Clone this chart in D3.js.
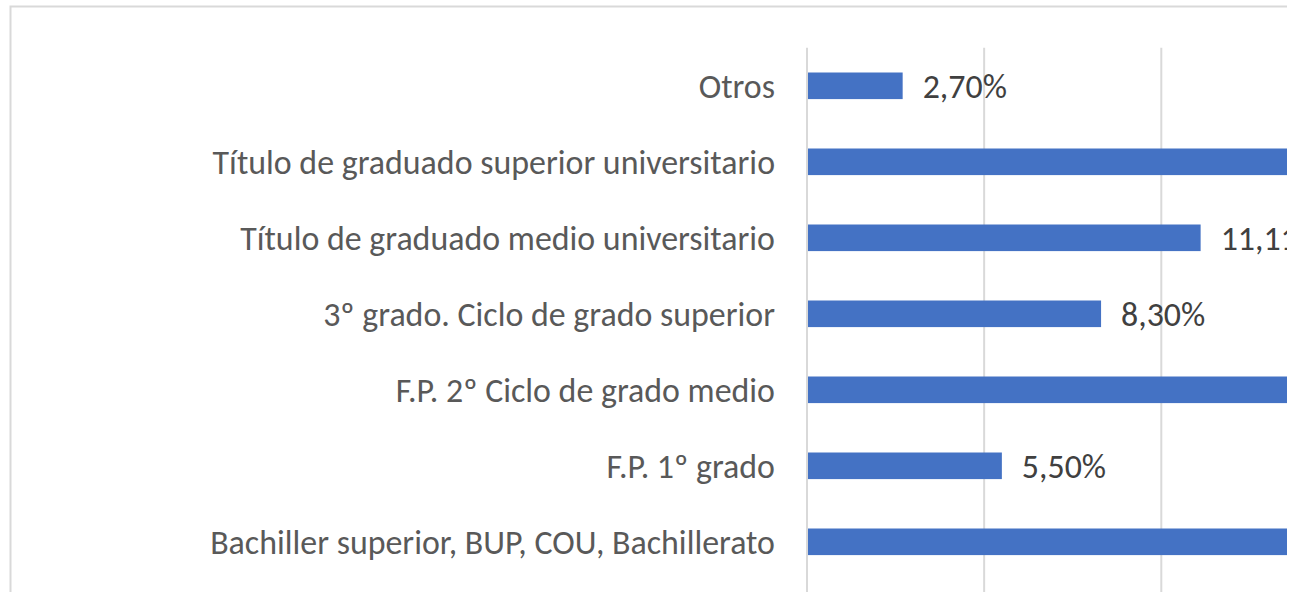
<!DOCTYPE html>
<html>
<head>
<meta charset="utf-8">
<script src="https://cdn.jsdelivr.net/npm/d3@7"></script>
<style>
  html, body { margin: 0; padding: 0; background: #fff; }
  svg { display: block; }
</style>
</head>
<body>
<div id="chart"></div>
<script>
// ---- data (top to bottom) ----
const categories = [
  "Otros",
  "Título de graduado superior universitario",
  "Título de graduado medio universitario",
  "3º grado. Ciclo de grado superior",
  "F.P. 2º Ciclo de grado medio",
  "F.P. 1º grado",
  "Bachiller superior, BUP, COU, Bachillerato"
];
const values = [2.70, 36.11, 11.11, 8.30, 16.67, 5.50, 19.44];
const tickValues = [0, 5, 10, 15, 20, 25, 30, 35, 40];

const W = 1307, H = 592;
const CROP = 1287;
const FONT = "Carlito, Calibri, Lato, 'Open Sans', sans-serif";

const svg = d3.select("#chart").append("svg")
  .attr("width", W).attr("height", H);

// visible crop of the chart (reference is cut on the right)
svg.append("defs").append("clipPath").attr("id", "crop")
  .append("rect").attr("x", 0).attr("y", 0).attr("width", CROP).attr("height", H);

const g = svg.append("g").attr("clip-path", "url(#crop)");

// chart frame
g.append("rect")
  .attr("x", 10.5).attr("y", 6.5)
  .attr("width", 1600).attr("height", 800)
  .attr("fill", "#fff").attr("stroke", "#d9d9d9").attr("stroke-width", 2);

const x = d3.scaleLinear().domain([0, 40]).range([807, 807 + 40 * 35.43]);
const y = d3.scaleBand().domain(categories).range([47.8, 579.8]).paddingInner(0.65).paddingOuter(0.325);

// gridlines
g.append("g").selectAll("line").data(tickValues).join("line")
  .attr("x1", d => x(d)).attr("x2", d => x(d))
  .attr("y1", 47.8).attr("y2", H + 20)
  .attr("stroke", "#d9d9d9").attr("stroke-width", 2);

// bars
g.append("g").selectAll("rect").data(categories).join("rect")
  .attr("x", x(0) + 1)
  .attr("y", d => y(d))
  .attr("width", (d, i) => x(values[i]) - x(0) - 1)
  .attr("height", y.bandwidth())
  .attr("fill", "#4472C4");

// category labels (size fitted to the longest label's width in the reference)
const catLabels = svg.append("g").selectAll("text").data(categories).join("text")
  .attr("x", 775)
  .attr("y", d => y(d) + y.bandwidth() / 2)
  .attr("dy", "0.35em")
  .attr("text-anchor", "end")
  .attr("font-family", FONT)
  .attr("font-size", 100)
  .attr("fill", "#595959")
  .text(d => d);

const longest = catLabels.filter((d, i) => i === categories.length - 1).node().getComputedTextLength();
const fs = 100 * 565 / longest;
catLabels.attr("font-size", fs);

// value labels (those that start beyond the visible crop are not shown, as in the reference)
const fmt = v => v.toFixed(2).replace(".", ",") + "%";
const visible = categories.map((d, i) => i).filter(i => x(values[i]) + 20 < CROP);
g.append("g").selectAll("text").data(visible).join("text")
  .attr("x", i => x(values[i]) + 20)
  .attr("y", i => y(categories[i]) + y.bandwidth() / 2)
  .attr("dy", "0.35em")
  .attr("font-family", FONT)
  .attr("font-size", fs)
  .attr("fill", "#404040")
  .text(i => fmt(values[i]));
</script>
</body>
</html>
